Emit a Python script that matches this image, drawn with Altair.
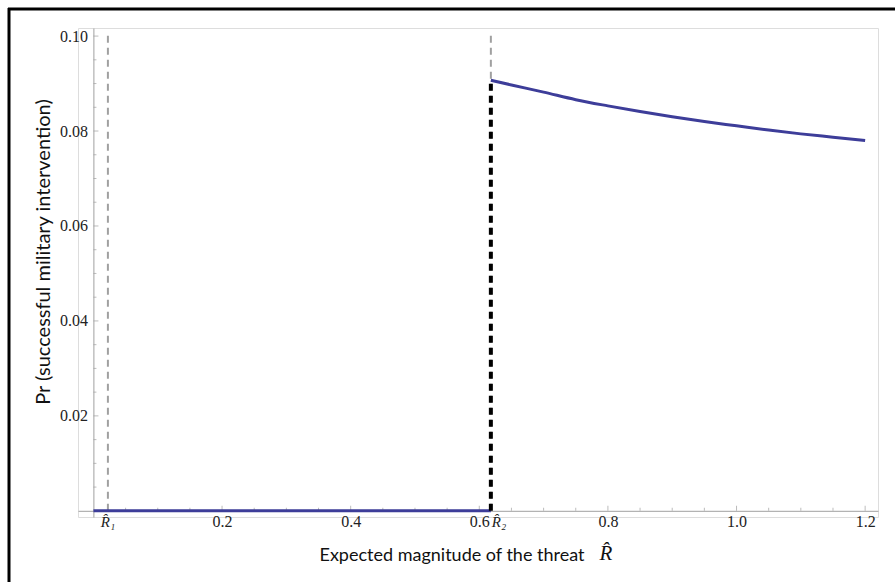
import altair as alt
import pandas as pd

# ---- data ----
R1 = 0.0225
R2 = 0.618
curve_x = [0.618, 0.65, 0.70, 0.75, 0.80, 0.85, 0.90, 0.95, 1.00, 1.05, 1.10, 1.15, 1.20]
curve_y = [0.0907, 0.0897, 0.0882, 0.0866, 0.0853, 0.0841, 0.0830, 0.0820, 0.0811, 0.0802, 0.0794, 0.0787, 0.0780]
flat_x = [0.0, 0.618]
flat_y = [0.0, 0.0]
x_major = [0.2, 0.4, 0.6, 0.8, 1.0, 1.2]
x_minor = [0.05, 0.10, 0.15, 0.25, 0.30, 0.35, 0.45, 0.50, 0.55, 0.65, 0.70, 0.75,
           0.85, 0.90, 0.95, 1.05, 1.10, 1.15]
y_major = [0.02, 0.04, 0.06, 0.08, 0.10]
y_minor = [0.005, 0.010, 0.015, 0.025, 0.030, 0.035, 0.045, 0.050, 0.055,
           0.065, 0.070, 0.075, 0.085, 0.090, 0.095]
y_top = 0.1010
r_labels = ["R\u0302\u2081", "R\u0302\u2082"]

X_DOM = [-0.024, 1.22]
Y_DOM = [-0.0013, 0.1017]
W, H = 800, 489
BLUE = "#3d3d99"
GRAY = "#a0a0a0"

xs = alt.Scale(domain=X_DOM, nice=False, zero=False)
ys = alt.Scale(domain=Y_DOM, nice=False, zero=False)

x_axis = alt.Axis(values=x_major, format=".1f", ticks=False, grid=False,
                  domainColor=GRAY, domainWidth=1, offset=-6.2, labelPadding=3,
                  labelFont="Liberation Serif", labelFontSize=16, labelColor="#222",
                  title=None)
y_axis = alt.Axis(values=y_major, format=".2f", ticks=False, grid=False,
                  domainColor=GRAY, domainWidth=1, offset=-15.4, labelPadding=6,
                  labelFont="Liberation Serif", labelFontSize=16, labelColor="#222",
                  title=None)

curve_df = pd.DataFrame({"x": curve_x, "y": curve_y})
flat_df = pd.DataFrame({"x": flat_x, "y": flat_y})

base_axes = alt.Chart(pd.DataFrame({"x": [X_DOM[0]], "y": [Y_DOM[0]]})).mark_point(opacity=0).encode(
    x=alt.X("x:Q", scale=xs, axis=x_axis),
    y=alt.Y("y:Q", scale=ys, axis=y_axis),
)

xt_major = alt.Chart(pd.DataFrame({"x": x_major})).mark_tick(
    orient="vertical", size=5, thickness=1, color=GRAY, yOffset=-2.5).encode(
    x=alt.X("x:Q", scale=xs), y=alt.datum(0, scale=ys))
xt_minor = alt.Chart(pd.DataFrame({"x": x_minor})).mark_tick(
    orient="vertical", size=3, thickness=1, color=GRAY, yOffset=-1.5).encode(
    x=alt.X("x:Q", scale=xs), y=alt.datum(0, scale=ys))
yt_major = alt.Chart(pd.DataFrame({"y": y_major})).mark_tick(
    orient="horizontal", size=5, thickness=1, color=GRAY, xOffset=2.5).encode(
    y=alt.Y("y:Q", scale=ys), x=alt.datum(0, scale=xs))
yt_minor = alt.Chart(pd.DataFrame({"y": y_minor})).mark_tick(
    orient="horizontal", size=3, thickness=1, color=GRAY, xOffset=1.5).encode(
    y=alt.Y("y:Q", scale=ys), x=alt.datum(0, scale=xs))

gray_dash = alt.Chart(pd.DataFrame({"x": [R1, R2], "y": [0.0, 0.0], "y2": [y_top, y_top]})).mark_rule(
    color=GRAY, strokeWidth=2, strokeDash=[7, 5]).encode(
    x=alt.X("x:Q", scale=xs), y=alt.Y("y:Q", scale=ys), y2="y2:Q")

black_dash = alt.Chart(pd.DataFrame({"x": [R2], "y": [0.0], "y2": [curve_y[0]]})).mark_rule(
    color="black", strokeWidth=4, strokeDash=[7, 5]).encode(
    x=alt.X("x:Q", scale=xs), y=alt.Y("y:Q", scale=ys), y2="y2:Q")

flat = alt.Chart(flat_df).mark_line(color=BLUE, strokeWidth=3).encode(
    x=alt.X("x:Q", scale=xs), y=alt.Y("y:Q", scale=ys))
curve = alt.Chart(curve_df).mark_line(color=BLUE, strokeWidth=3, interpolate="monotone").encode(
    x=alt.X("x:Q", scale=xs), y=alt.Y("y:Q", scale=ys))

r1_lab = alt.Chart(pd.DataFrame({"x": [R1], "y": [0.0], "t": [r_labels[0]]})).mark_text(
    font="Liberation Serif", fontStyle="italic", fontSize=15, color="#222",
    baseline="top", align="center", dy=4).encode(
    x=alt.X("x:Q", scale=xs), y=alt.Y("y:Q", scale=ys), text="t:N")
r2_lab = alt.Chart(pd.DataFrame({"x": [R2], "y": [0.0], "t": [r_labels[1]]})).mark_text(
    font="Liberation Serif", fontStyle="italic", fontSize=15, color="#222",
    baseline="top", align="left", dx=1, dy=4).encode(
    x=alt.X("x:Q", scale=xs), y=alt.Y("y:Q", scale=ys), text="t:N")

x_title = alt.Chart(pd.DataFrame({"t": ["Expected magnitude of the threat"]})).mark_text(
    font="Lato", fontSize=18, color="#111", align="center", baseline="middle").encode(
    x=alt.value(374), y=alt.value(528), text="t:N")
x_title_r = alt.Chart(pd.DataFrame({"t": ["R\u0302"]})).mark_text(
    font="Liberation Serif", fontStyle="italic", fontSize=21, color="#111",
    align="center", baseline="middle").encode(
    x=alt.value(528), y=alt.value(526), text="t:N")
y_title = alt.Chart(pd.DataFrame({"t": ["Pr (successful military intervention)"]})).mark_text(
    font="Lato", fontSize=20, color="#111", align="center", baseline="middle", angle=270).encode(
    x=alt.value(-34), y=alt.value(224), text="t:N")

frame_left = alt.Chart(pd.DataFrame({"a": [0]})).mark_rule(color="black", strokeWidth=3).encode(
    x=alt.value(-69), y=alt.value(-20), y2=alt.value(600))
frame_top = alt.Chart(pd.DataFrame({"a": [0]})).mark_rule(color="black", strokeWidth=3).encode(
    x=alt.value(-70), x2=alt.value(900), y=alt.value(-19))

chart = alt.layer(
    base_axes, xt_minor, xt_major, yt_minor, yt_major,
    gray_dash, flat, curve, black_dash, r1_lab, r2_lab,
    x_title, x_title_r, y_title, frame_left, frame_top,
).properties(
    width=W, height=H,
    autosize=alt.AutoSizeParams(type="none"),
    padding={"left": 78, "top": 28, "right": 17, "bottom": 65},
).configure_view(stroke=None).configure(background="white")

chart.save("out.html", embed_options={"renderer": "svg", "actions": False})
